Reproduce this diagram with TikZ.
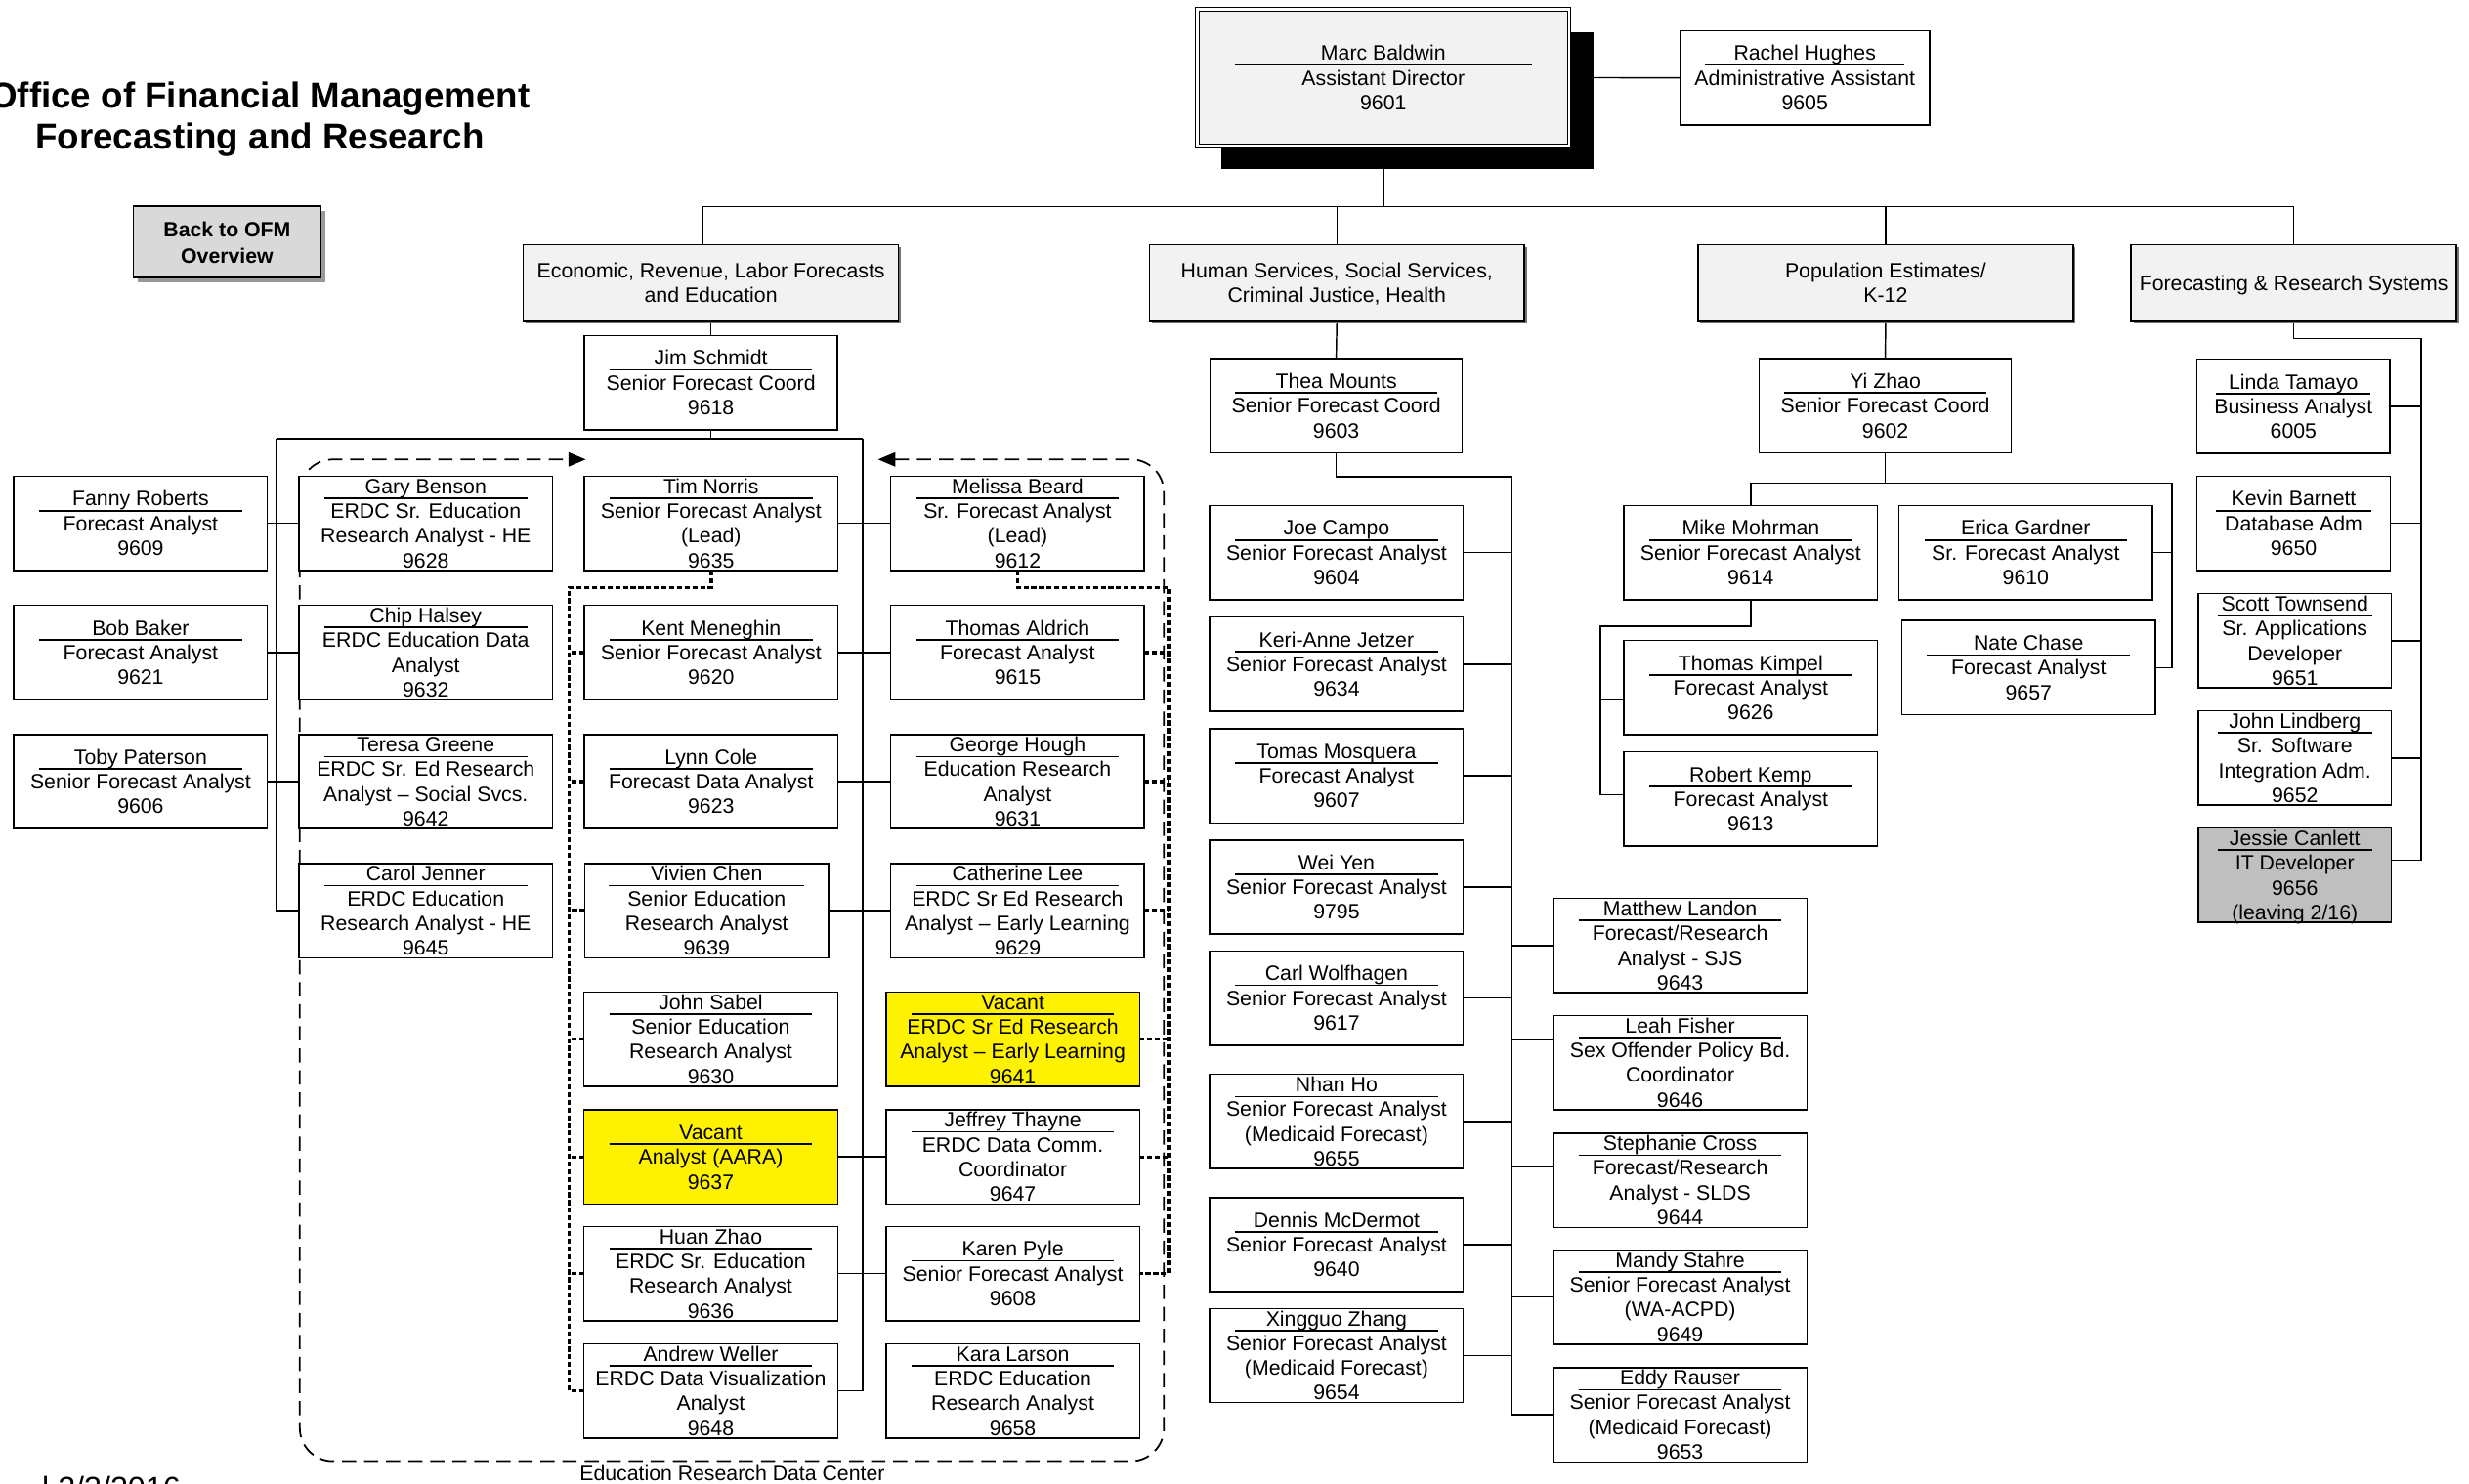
\documentclass[tikz,border=0pt]{standalone}
\usepackage{fontspec}
\setmainfont{Liberation Sans}
\usetikzlibrary{shadows,arrows.meta,calc}
\pgfdeclarelayer{bg}
\pgfsetlayers{bg,main}
\newcommand\cardfont{\fontsize{13.2}{15.7}\selectfont}
\newcommand\cardlines[1]{\begin{tabular}{@{}c@{}}#1\end{tabular}}
\tikzset{
  cardbox/.style={draw,line width=0.9pt,fill=white,minimum height=59.8pt,inner sep=0pt,outer sep=0pt},
  cardtext/.style={font=\cardfont,inner sep=0pt,outer sep=0pt},
  sepline/.style={line width=1pt},
  conn/.style={line width=0.9pt},
  dotconn/.style={line width=2.1pt,dash pattern=on 3.2pt off 1.7pt},
  erdcframe/.style={line width=1.1pt,dash pattern=on 9pt off 5pt,rounded corners=21pt},
  vacantbox/.style={fill=yellow},
  leavingbox/.style={fill=black!25},
  deptbox/.style={draw,line width=0.9pt,fill=black!5,minimum height=48.6pt,inner sep=0pt,outer sep=0pt,
    drop shadow={shadow xshift=1.5pt,shadow yshift=-1.5pt,fill=black!55,opacity=1}},
  marcbox/.style={double,double distance=1.6pt,line width=0.7pt,fill=black!5,minimum height=86.5pt,
    drop shadow={shadow xshift=15.4pt,shadow yshift=-14.5pt,fill=black,opacity=1}},
  backbox/.style={draw,line width=1pt,fill=black!15,minimum width=119.1pt,minimum height=45.1pt,inner sep=0pt,
    drop shadow={shadow xshift=3pt,shadow yshift=-3pt,fill=black!40,opacity=1}},
  titletext/.style={font=\fontsize{22.8}{26}\selectfont\bfseries,inner sep=0pt,anchor=base},
  labeltext/.style={font=\cardfont,inner sep=0pt,anchor=base},
}
% \card[style]{id}{cx}{cy}{width}{lines}{text}
\newcommand\card[7][]{%
  \node[cardbox,minimum width=#5pt,#1] (#2) at (#3,#4) {};
  \node[cardtext] (#2-t) at (#3,#4+1.56) {\cardlines{#7}};
  \pgfmathsetmacro\sepy{#4+15.5-7.85*#6}%
  \pgfmathsetmacro\sepx{#3-0.4*#5}%
  \pgfmathsetmacro\sepw{0.8*#5}%
  \draw[sepline] (\sepx,\sepy) -- ++(\sepw,0);
}
\newcommand\deptnode[5]{%
  \node[deptbox,minimum width=#4pt] (#1) at (#2,#3) {};
  \node[cardtext] (#1-t) at (#2,#3+1.56) {\cardlines{#5}};
}
\begin{document}
\begin{tikzpicture}[x=1pt,y=-1pt]
\useasboundingbox (0,0) rectangle (1568,942);

% titles
\node[titletext] (title1) at (165,68.5) {Office of Financial Management};
\node[titletext] (title2) at (165,94.4) {Forecasting and Research};
\node[backbox] (back) at (144.25,153.65) {};
\node[cardtext,font=\fontsize{13.2}{16.6}\selectfont\bfseries] (back-t) at (144.25,155.5) {\cardlines{Back to OFM\\Overview}};

% top
\card[marcbox]{marc}{878.5}{49.3}{236}{3}{Marc Baldwin\\Assistant Director\\9601}
\card{rachel}{1146.2}{49.4}{158.3}{3}{Rachel Hughes\\Administrative Assistant\\9605}

% departments
\deptnode{econ}{451.5}{179.8}{238.2}{Economic, Revenue, Labor Forecasts\\and Education}
\deptnode{human}{849}{179.8}{238.1}{Human Services, Social Services,\\Criminal Justice, Health}
\deptnode{pop}{1197.5}{179.8}{238.1}{Population Estimates/\\K-12}
\deptnode{fr}{1456.7}{179.8}{206.6}{Forecasting \& Research Systems}

% coordinators
\card{jim}{451.5}{243}{160.7}{3}{Jim Schmidt\\Senior Forecast Coord\\9618}
\card{thea}{848.6}{257.6}{160.2}{3}{Thea Mounts\\Senior Forecast Coord\\9603}
\card{yi}{1197.3}{257.6}{160.1}{3}{Yi Zhao\\Senior Forecast Coord\\9602}
\card{linda}{1456.5}{258}{122.7}{3}{Linda Tamayo\\Business Analyst\\6005}

% economic / ERDC group
\card{fanny}{89.3}{332.4}{161}{3}{Fanny Roberts\\Forecast Analyst\\9609}
\card{bob}{89.3}{414.4}{161}{3}{Bob Baker\\Forecast Analyst\\9621}
\card{toby}{89.3}{496.4}{161}{3}{Toby Paterson\\Senior Forecast Analyst\\9606}
\card{gary}{270.4}{332.4}{161}{4}{Gary Benson\\ERDC Sr. Education\\Research Analyst - HE\\9628}
\card{chip}{270.4}{414.4}{161}{4}{Chip Halsey\\ERDC Education Data\\Analyst\\9632}
\card{teresa}{270.4}{496.4}{161}{4}{Teresa Greene\\ERDC Sr. Ed Research\\Analyst – Social Svcs.\\9642}
\card{carol}{270.4}{578.4}{161}{4}{Carol Jenner\\ERDC Education\\Research Analyst - HE\\9645}
\card{tim}{451.6}{332.4}{161}{4}{Tim Norris\\Senior Forecast Analyst\\(Lead)\\9635}
\card{kent}{451.6}{414.4}{161}{3}{Kent Meneghin\\Senior Forecast Analyst\\9620}
\card{lynn}{451.6}{496.4}{161}{3}{Lynn Cole\\Forecast Data Analyst\\9623}
\card{vivien}{448.8}{578.4}{155}{4}{Vivien Chen\\Senior Education\\Research Analyst\\9639}
\card{sabel}{451.4}{660}{161}{4}{John Sabel\\Senior Education\\Research Analyst\\9630}
\card[vacantbox]{vacant37}{451.4}{734.8}{161}{3}{Vacant\\Analyst (AARA)\\9637}
\card{huan}{451.4}{808.9}{161}{4}{Huan Zhao\\ERDC Sr. Education\\Research Analyst\\9636}
\card{andrew}{451.4}{883.4}{161}{4}{Andrew Weller\\ERDC Data Visualization\\Analyst\\9648}
\card{melissa}{646.2}{332.4}{161}{4}{Melissa Beard\\Sr. Forecast Analyst\\(Lead)\\9612}
\card{thomasa}{646.2}{414.4}{161}{3}{Thomas Aldrich\\Forecast Analyst\\9615}
\card{george}{646.2}{496.4}{161}{4}{George Hough\\Education Research\\Analyst\\9631}
\card{catherine}{646.2}{578.4}{161}{4}{Catherine Lee\\ERDC Sr Ed Research\\Analyst – Early Learning\\9629}
\card[vacantbox]{vacant41}{643.2}{660}{161}{4}{Vacant\\ERDC Sr Ed Research\\Analyst – Early Learning\\9641}
\card{jeffrey}{643.2}{734.8}{161}{4}{Jeffrey Thayne\\ERDC Data Comm.\\Coordinator\\9647}
\card{karen}{643.2}{808.9}{161}{3}{Karen Pyle\\Senior Forecast Analyst\\9608}
\card{kara}{643.2}{883.4}{161}{4}{Kara Larson\\ERDC Education\\Research Analyst\\9658}

% human services group
\card{joe}{848.8}{351}{161}{3}{Joe Campo\\Senior Forecast Analyst\\9604}
\card{keri}{848.8}{421.9}{161}{3}{Keri-Anne Jetzer\\Senior Forecast Analyst\\9634}
\card{tomas}{848.8}{492.7}{161}{3}{Tomas Mosquera\\Forecast Analyst\\9607}
\card{wei}{848.8}{563.4}{161}{3}{Wei Yen\\Senior Forecast Analyst\\9795}
\card{carl}{848.8}{633.9}{161}{3}{Carl Wolfhagen\\Senior Forecast Analyst\\9617}
\card{nhan}{848.8}{712.3}{161}{4}{Nhan Ho\\Senior Forecast Analyst\\(Medicaid Forecast)\\9655}
\card{dennis}{848.8}{790.5}{161}{3}{Dennis McDermot\\Senior Forecast Analyst\\9640}
\card{xingguo}{848.8}{860.9}{161}{4}{Xingguo Zhang\\Senior Forecast Analyst\\(Medicaid Forecast)\\9654}
\card{matthew}{1067}{600.5}{161}{4}{Matthew Landon\\Forecast/Research\\Analyst - SJS\\9643}
\card{leah}{1067}{674.9}{161}{4}{Leah Fisher\\Sex Offender Policy Bd.\\Coordinator\\9646}
\card{stephanie}{1067}{749.6}{161}{4}{Stephanie Cross\\Forecast/Research\\Analyst - SLDS\\9644}
\card{mandy}{1067}{823.8}{161}{4}{Mandy Stahre\\Senior Forecast Analyst\\(WA-ACPD)\\9649}
\card{eddy}{1067}{898.5}{161}{4}{Eddy Rauser\\Senior Forecast Analyst\\(Medicaid Forecast)\\9653}

% population group
\card{mike}{1111.85}{351}{161}{3}{Mike Mohrman\\Senior Forecast Analyst\\9614}
\card{erica}{1286.5}{351}{161}{3}{Erica Gardner\\Sr. Forecast Analyst\\9610}
\card{nate}{1288.3}{424}{161}{3}{Nate Chase\\Forecast Analyst\\9657}
\card{thomk}{1111.85}{436.7}{161}{3}{Thomas Kimpel\\Forecast Analyst\\9626}
\card{robk}{1111.85}{507.5}{161}{3}{Robert Kemp\\Forecast Analyst\\9613}

% systems group
\card{kevin}{1456.65}{332.4}{122.9}{3}{Kevin Barnett\\Database Adm\\9650}
\card{scott}{1457.4}{407}{122.8}{4}{Scott Townsend\\Sr. Applications\\Developer\\9651}
\card{lindberg}{1457.4}{481.45}{122.8}{4}{John Lindberg\\Sr. Software\\Integration Adm.\\9652}
\card[leavingbox]{jessie}{1457.4}{555.9}{122.8}{4}{Jessie Canlett\\IT Developer\\9656\\(leaving 2/16)}

% labels
\node[labeltext] (erdclabel) at (465,940.3) {Education Research Data Center};
\node[labeltext,anchor=base west,font=\fontsize{20}{24}\selectfont] (datelabel) at (26.6,952.3) {l 2/3/2016};

\begin{pgfonlayer}{bg}
% top connectors
\draw[conn] (marc.east) -- (rachel.west);
\coordinate (topbus) at (878.5,131.3);
\draw[conn] (marc.south) -- (topbus);
\draw[conn] ([xshift=-5pt]econ.north) |- (topbus) -| (fr.north);
\draw[conn] (topbus -| human.north) -- (human.north);
\draw[conn] (topbus -| pop.north) -- (pop.north);
\draw[conn] (econ.south) -- (jim.north);
\draw[conn] (human.south) -- (thea.north);
\draw[conn] (pop.south) -- (yi.north);

% economic / ERDC
\coordinate (ebl) at (175.3,278.5);
\coordinate (ebr) at (548,278.5);
\draw[conn] (jim.south) -- (jim.south |- ebl);
\draw[conn] (ebl) -- (ebr);
\draw[conn] (ebl) |- (carol.west);
\draw[conn] (ebr) |- (andrew.east);
\foreach \a/\b in {fanny/gary,bob/chip,toby/teresa,tim/melissa,kent/thomasa,lynn/george,vivien/catherine,sabel/vacant41,vacant37/jeffrey,huan/karen}
  \draw[conn] (\a.east) -- (\b.west);

\coordinate (dl) at (361.5,373.2);
\coordinate (dr) at (742,373.2);
\draw[dotconn] (tim.south) |- (dl) |- (andrew.west);
\foreach \n in {kent,lynn,vivien,sabel,vacant37,huan}
  \draw[dotconn] (\n.west) -- (\n.west -| dl);
\draw[dotconn] (melissa.south) |- (dr) |- (karen.east);
\foreach \n in {thomasa,george,catherine,vacant41,jeffrey}
  \draw[dotconn] (\n.east) -- (\n.east -| dr);

\draw[erdcframe,{Triangle[length=11pt,width=9pt]}-{Triangle[length=11pt,width=9pt]}]
  (557.6,291.8) -- (739.2,291.8) -- (739.2,928) -- (190.4,928) -- (190.4,291.8) -- (372,291.8);

% human services
\coordinate (hb) at (960.2,302.9);
\draw[conn] (thea.south) |- (hb) |- (eddy.west);
\foreach \n in {joe,keri,tomas,wei,carl,nhan,dennis,xingguo}
  \draw[conn] (\n.east) -- (\n.east -| hb);
\foreach \n in {matthew,mandy}
  \draw[conn] (\n.west) -- (\n.west -| hb);
\coordinate (leahs) at ([yshift=14.5pt]leah.west);
\coordinate (stephs) at ([yshift=8.6pt]stephanie.west);
\draw[conn] (leahs) -- (leahs -| hb);
\draw[conn] (stephs) -- (stephs -| hb);

% population
\coordinate (pbl) at (1111.85,306.7);
\coordinate (pbr) at (1379.4,306.7);
\draw[conn] (yi.south) -- (yi.south |- pbl);
\draw[conn] (mike.north) -- (pbl) -- (pbr) |- (nate.east);
\draw[conn] (erica.east) -- (erica.east -| pbr);
\coordinate (mb) at (1016.3,397.8);
\coordinate (thks) at ([yshift=-7.4pt]thomk.west);
\coordinate (robs) at ([yshift=2.9pt]robk.west);
\draw[conn] (mike.south) |- (mb) |- (robs);
\draw[conn] (thks) -- (thks -| mb);

% systems
\coordinate (fbus) at (1537.5,215);
\coordinate (jessies) at ([yshift=9.6pt]jessie.east);
\draw[conn] (fr.south) |- (fbus) |- (jessies);
\foreach \n in {linda,kevin,scott,lindberg}
  \draw[conn] (\n.east) -- (\n.east -| fbus);
\end{pgfonlayer}
\end{tikzpicture}
\end{document}
